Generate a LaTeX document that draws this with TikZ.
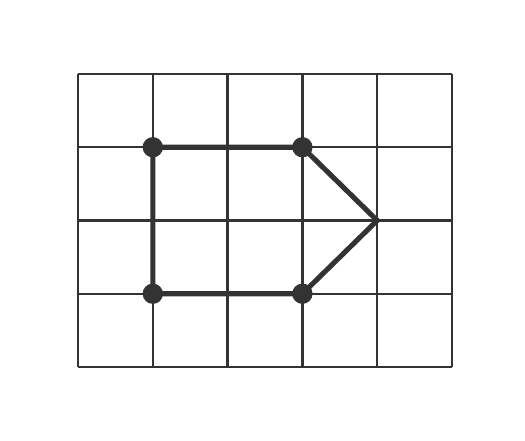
\documentclass[tikz,border=0pt]{standalone}
\usepackage{tikz}
\definecolor{ink}{HTML}{333333}
\begin{document}
\begin{tikzpicture}[x=1.5cm, y=1.469cm]
\useasboundingbox (-1.043,-1.01) rectangle (5.976,5.01);
\foreach \i in {0,...,5}
	\draw[ink, line width=1.3pt] (\i,0) -- (\i,4);
\foreach \j in {0,...,4}
	\draw[ink, line width=1.3pt] (0,\j) -- (5,\j);

\coordinate (A) at (1,3);
\coordinate (B) at (3,3);
\coordinate (C) at (4,2);
\coordinate (D) at (3,1);
\coordinate (E) at (1,1);
\draw[ink, line width=2.9pt, line join=miter] (A) -- (B) -- (C) -- (D) -- (E) -- cycle;

\foreach \p in {A,B,D,E}
	\fill[ink] (\p) circle (5.8pt);
\end{tikzpicture}
\end{document}
